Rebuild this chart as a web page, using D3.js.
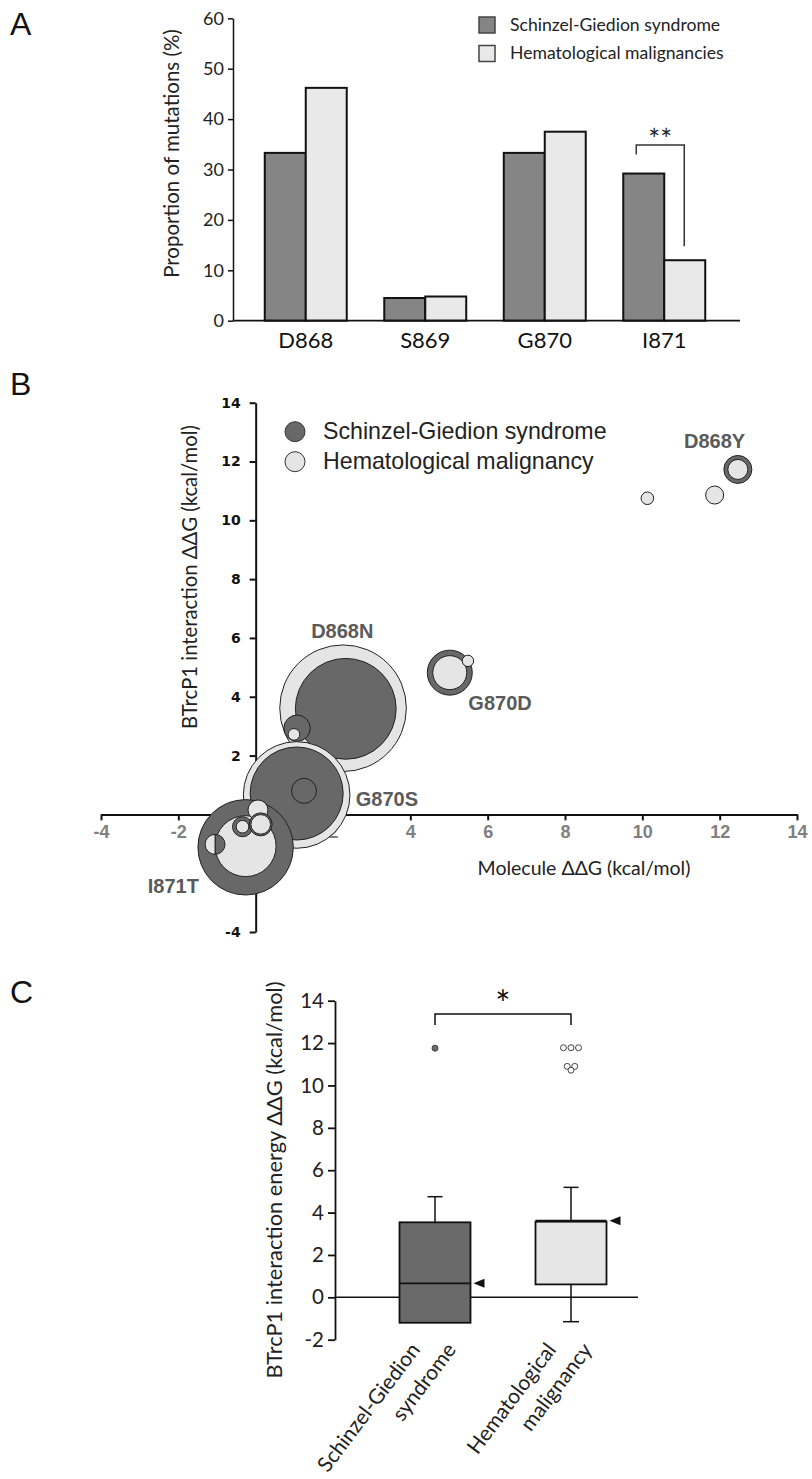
<!DOCTYPE html>
<html><head><meta charset="utf-8">
<script src="https://cdn.jsdelivr.net/npm/d3@7"></script>
<style>body{margin:0;background:#fff}svg{display:block}</style>
</head><body>
<svg id="c" width="812" height="1479"></svg>
<script>
// ---------------- DATA ----------------
// Panel A
const aCategories = ["D868", "S869", "G870", "I871"];
const aSeries = ["Schinzel-Giedion syndrome", "Hematological malignancies"];
const aSGS = [33.3, 4.5, 33.3, 29.2];
const aHM = [46.2, 4.8, 37.5, 12.0];
const aTicks = [0, 10, 20, 30, 40, 50, 60];

// Panel B (bubbles in drawing order)
const bLegend = ["Schinzel-Giedion syndrome", "Hematological malignancy"];
const bTicks = [-4, -2, 0, 2, 4, 6, 8, 10, 12, 14];
const bGroup = ["HM","SGS","SGS","HM","HM","SGS","SGS","SGS","HM","HM","SGS","HM","SGS","HM","SGS","HM","HM","SGS","HM","HM","HM"];
const bX =     [2.26, 2.33, 1.07, 0.99, 1.06, 1.06, 1.25, -0.26, -0.26, 0.06, -0.34, -0.34, 0.13, 0.13, 5.02, 5.02, 5.49, 12.47, 12.47, 10.13, 11.87];
const bY =     [3.61, 3.59, 2.93, 2.72, 0.66, 0.71, 0.80, -1.12, -1.08, 0.15, -0.42, -0.42, -0.34, -0.34, 4.82, 4.82, 5.22, 11.73, 11.73, 10.75, 10.86];
const bSize =  [101, 64, 4.39, 0.85, 71.6, 54.5, 3.94, 57.3, 23.4, 2.52, 2.52, 1.0, 3.33, 2.42, 12.75, 7.28, 0.82, 4.94, 2.52, 1.0, 2.04];
// split bubble (half SGS / half HM)
const bSplitX = -1.05, bSplitY = -1.02;
const bSplitCounts = [1.25, 1.25]; // [SGS, HM]
// mutation annotations (data coordinates)
const bLabels = ["D868N", "G870D", "G870S", "I871T", "D868Y"];
const bLabelX = [2.24, 5.50, 2.59, -2.79, 11.87];
const bLabelY = [5.99, 3.55, 0.28, -2.67, 12.45];
const bLabelAnchor = ["middle", "start", "start", "start", "middle"];

// Panel C
const cGroups = ["Schinzel-Giedion\nsyndrome", "Hematological\nmalignancy"];
const cQ1 = [-1.2, 0.61];
const cMedian = [0.66, 3.62];
const cQ3 = [3.54, 3.57];
const cWhiskLow = [-1.2, -1.15];
const cWhiskHigh = [4.75, 5.19];
const cOutliers = [[11.76], [11.78, 11.78, 11.78, 10.9, 10.9, 10.72]];
const cTicks = [-2, 0, 2, 4, 6, 8, 10, 12, 14];

// ---------------- STYLE ----------------
const CAL = "Lato, 'Open Sans', sans-serif";
const ARIAL = "'Liberation Sans', Arial, sans-serif";
const aDark = "#858585", aLight = "#e9e9e9";
const bDark = "#686868", bLight = "#e5e5e5";
const cDark = "#6a6a6a", cLight = "#e6e6e6";
const fmt = d => String(d); // plain hyphen minus

const svg = d3.select("#c");
svg.append("rect").attr("width", 812).attr("height", 1479).attr("fill", "#fff");

// panel letters
const panelLetters = ["A", "B", "C"];
const letterY = [35, 395, 1003];
svg.selectAll("text.letter").data(panelLetters).join("text")
  .attr("class", "letter").attr("x", 10).attr("y", (d, i) => letterY[i])
  .attr("font-family", ARIAL).attr("font-size", 32).attr("fill", "#111").text(d => d);

// ================= PANEL A =================
const gA = svg.append("g");
const yA = d3.scaleLinear().domain([0, 60]).range([320.7, 18.3]);
const xA = d3.scaleBand().domain(aCategories).range([246, 724]).paddingInner(0.314).paddingOuter(0.157);
const xAsub = d3.scaleBand().domain([0, 1]).range([0, xA.bandwidth()]);
const aVals = [aSGS, aHM];
const aFill = [aDark, aLight];

const axAy = gA.append("g").attr("transform", "translate(233,0)")
  .call(d3.axisLeft(yA).tickValues(aTicks).tickFormat(fmt).tickSize(5).tickSizeOuter(0).tickPadding(4));
axAy.select(".domain").attr("stroke", "#111").attr("stroke-width", 1.5);
axAy.selectAll(".tick line").attr("stroke", "#111").attr("stroke-width", 1.5);
axAy.selectAll("text").attr("font-family", CAL).attr("font-size", 18).attr("fill", "#222");

aCategories.forEach((c, i) => {
  [0, 1].forEach(s => {
    gA.append("rect")
      .attr("x", xA(c) + xAsub(s)).attr("width", xAsub.bandwidth())
      .attr("y", yA(aVals[s][i])).attr("height", yA(0) - yA(aVals[s][i]))
      .attr("fill", aFill[s]).attr("stroke", "#111").attr("stroke-width", 2);
  });
});
gA.append("line").attr("x1", 233).attr("x2", 740).attr("y1", yA(0)).attr("y2", yA(0))
  .attr("stroke", "#111").attr("stroke-width", 1.8);
const axAx = gA.append("g").attr("transform", `translate(0,${yA(0)})`)
  .call(d3.axisBottom(xA).tickSize(0).tickPadding(8));
axAx.select(".domain").remove();
axAx.selectAll("text").attr("font-family", CAL).attr("font-size", 22).attr("fill", "#111")
  .attr("dy", "0.9em");

gA.append("text").attr("transform", "translate(179,153.5) rotate(-90)")
  .attr("text-anchor", "middle").attr("font-family", CAL).attr("font-size", 20.5).attr("fill", "#222")
  .text("Proportion of mutations (%)");

// legend A
aSeries.forEach((s, i) => {
  gA.append("rect").attr("x", 479).attr("y", 17 + i * 28.5).attr("width", 16).attr("height", 16)
    .attr("fill", aFill[i]).attr("stroke", "#444").attr("stroke-width", 1.5);
  gA.append("text").attr("x", 510).attr("y", 31 + i * 27.6)
    .attr("font-family", CAL).attr("font-size", 17.6).attr("fill", "#222").text(s);
});

// significance I871
const lx = xA("I871") + xAsub(0) + 13, rx = xA("I871") + xAsub(1) + 20;
gA.append("path")
  .attr("d", `M${lx},${yA(aSGS[3]) - 19}V145H${rx}V${yA(aHM[3]) - 14}`)
  .attr("fill", "none").attr("stroke", "#333").attr("stroke-width", 1.5);
gA.append("text").attr("x", (lx + rx) / 2).attr("y", 150).attr("text-anchor", "middle")
  .attr("font-family", CAL).attr("font-size", 28).attr("fill", "#222").text("**");

// ================= PANEL B =================
const gB = svg.append("g");
const xB = d3.scaleLinear().domain([-4, 14]).range([101, 797]);
const yB = d3.scaleLinear().domain([-4, 14]).range([932, 402.7]);
const rB = d3.scaleSqrt().domain([0, 1]).range([0, 6.3]);
const bFill = { SGS: bDark, HM: bLight };

const axBx = gB.append("g").attr("transform", `translate(0,${yB(0)})`)
  .call(d3.axisBottom(xB).tickValues(bTicks).tickFormat(fmt).tickSize(6).tickSizeOuter(0).tickPadding(5));
axBx.select(".domain").attr("stroke", "#111").attr("stroke-width", 2);
axBx.selectAll(".tick line").attr("stroke", "#111").attr("stroke-width", 2);
axBx.selectAll("text").attr("font-family", ARIAL).attr("font-weight", "bold")
  .attr("font-size", 18).attr("fill", "#808080");

const axBy = gB.append("g").attr("transform", `translate(${xB(0)},0)`)
  .call(d3.axisLeft(yB).tickValues(bTicks).tickFormat(fmt).tickSize(6).tickSizeOuter(0).tickPadding(9));
axBy.select(".domain").attr("stroke", "#111").attr("stroke-width", 2);
axBy.selectAll(".tick line").attr("stroke", "#111").attr("stroke-width", 2);
axBy.selectAll("text").attr("font-family", "'DejaVu Sans', sans-serif").attr("font-weight", "bold")
  .attr("font-size", 14).attr("fill", "#111");
// hide the 0 labels that sit at the origin
axBx.selectAll(".tick").filter(d => d === 0).select("text").remove();
axBy.selectAll(".tick").filter(d => d === 0).select("text").remove();

gB.append("text").attr("transform", "translate(197,577) rotate(-90)")
  .attr("text-anchor", "middle").attr("font-family", CAL).attr("font-size", 20.3).attr("fill", "#222")
  .text("BTrcP1 interaction ΔΔG (kcal/mol)");
gB.append("text").attr("x", 584).attr("y", 875).attr("text-anchor", "middle")
  .attr("font-family", CAL).attr("font-size", 19.5).attr("fill", "#222")
  .text("Molecule ΔΔG (kcal/mol)");

// bubbles
bGroup.forEach((g, i) => {
  gB.append("circle").attr("cx", xB(bX[i])).attr("cy", yB(bY[i])).attr("r", rB(bSize[i]))
    .attr("fill", bFill[g]).attr("stroke", "#222").attr("stroke-width", 1);
});
// split bubble
const pie = d3.pie().sort(null)(bSplitCounts);
const splitR = rB(d3.sum(bSplitCounts));
const arc = d3.arc().innerRadius(0).outerRadius(splitR);
const splitG = gB.append("g").attr("transform", `translate(${xB(bSplitX)},${yB(bSplitY)})`);
splitG.selectAll("path").data(pie).join("path").attr("d", arc)
  .attr("fill", (d, i) => i === 0 ? bDark : bLight).attr("stroke", "#222").attr("stroke-width", 1);

// mutation labels
bLabels.forEach((t, i) => {
  gB.append("text").attr("x", xB(bLabelX[i])).attr("y", yB(bLabelY[i]))
    .attr("text-anchor", bLabelAnchor[i]).attr("font-family", ARIAL).attr("font-weight", "bold")
    .attr("font-size", 20).attr("fill", "#5a5a5a").text(t);
});

// legend B
bLegend.forEach((t, i) => {
  gB.append("circle").attr("cx", 295).attr("cy", 431.7 + i * 30).attr("r", 10)
    .attr("fill", i === 0 ? bDark : bLight).attr("stroke", "#333").attr("stroke-width", 1);
  gB.append("text").attr("x", 323).attr("y", 438.5 + i * 30)
    .attr("font-family", ARIAL).attr("font-size", 23.2).attr("fill", "#222").text(t);
});

// ================= PANEL C =================
const gC = svg.append("g");
const yC = d3.scaleLinear().domain([-2, 14]).range([1339.7, 1000.7]);
const xC = d3.scalePoint().domain(cGroups).range([435, 571]);
const boxW = 71;
const cFill = [cDark, cLight];
const cOutFill = [cDark, "#fff"];

const axCy = gC.append("g").attr("transform", "translate(335,0)")
  .call(d3.axisLeft(yC).tickValues(cTicks).tickFormat(fmt).tickSize(7).tickSizeOuter(0).tickPadding(4));
axCy.select(".domain").attr("stroke", "#111").attr("stroke-width", 1.8);
axCy.selectAll(".tick line").attr("stroke", "#111").attr("stroke-width", 1.8);
axCy.selectAll("text").attr("font-family", CAL).attr("font-size", 20.5).attr("fill", "#222");
gC.append("line").attr("x1", 335).attr("x2", 638).attr("y1", yC(0)).attr("y2", yC(0))
  .attr("stroke", "#111").attr("stroke-width", 1.5);

gC.append("text").attr("transform", "translate(282,1180) rotate(-90)")
  .attr("text-anchor", "middle").attr("font-family", CAL).attr("font-size", 21.8).attr("fill", "#222")
  .text("BTrcP1 interaction energy ΔΔG (kcal/mol)");

cGroups.forEach((g, i) => {
  const cx = xC(g);
  // whiskers
  gC.append("line").attr("x1", cx).attr("x2", cx).attr("y1", yC(cQ3[i])).attr("y2", yC(cWhiskHigh[i]))
    .attr("stroke", "#111").attr("stroke-width", 1.5);
  gC.append("line").attr("x1", cx - 7.5).attr("x2", cx + 7.5).attr("y1", yC(cWhiskHigh[i])).attr("y2", yC(cWhiskHigh[i]))
    .attr("stroke", "#111").attr("stroke-width", 1.5);
  if (cWhiskLow[i] < cQ1[i]) {
    gC.append("line").attr("x1", cx).attr("x2", cx).attr("y1", yC(cQ1[i])).attr("y2", yC(cWhiskLow[i]))
      .attr("stroke", "#111").attr("stroke-width", 1.5);
    gC.append("line").attr("x1", cx - 8).attr("x2", cx + 8).attr("y1", yC(cWhiskLow[i])).attr("y2", yC(cWhiskLow[i]))
      .attr("stroke", "#111").attr("stroke-width", 1.5);
  }
  // box
  gC.append("rect").attr("x", cx - boxW / 2).attr("width", boxW)
    .attr("y", yC(cQ3[i])).attr("height", yC(cQ1[i]) - yC(cQ3[i]))
    .attr("fill", cFill[i]).attr("stroke", "#111").attr("stroke-width", 1.8);
  gC.append("line").attr("x1", cx - boxW / 2).attr("x2", cx + boxW / 2)
    .attr("y1", yC(cMedian[i])).attr("y2", yC(cMedian[i])).attr("stroke", "#111").attr("stroke-width", 1.8);
  // median marker
  const ym = yC(cMedian[i]), bx = cx + boxW / 2;
  gC.append("path").attr("d", `M${bx + 3},${ym}L${bx + 14},${ym - 4.5}L${bx + 14},${ym + 4.5}Z`).attr("fill", "#111");
  // outliers: spread identical values side by side
  const grouped = d3.groups(cOutliers[i], v => Math.round(v * 20) / 20);
  grouped.forEach(([k, vals]) => {
    vals.forEach((v, j) => {
      gC.append("circle").attr("cx", cx + (j - (vals.length - 1) / 2) * 7.5).attr("cy", yC(v)).attr("r", 3)
        .attr("fill", cOutFill[i]).attr("stroke", "#444").attr("stroke-width", 1);
    });
  });
  // category labels
  g.split("\n").forEach((ln, j) => {
    gC.append("text").attr("transform", `translate(${cx + (j === 0 ? -14 : 22)},1350) rotate(-53)`)
      .attr("text-anchor", "end").attr("font-family", CAL).attr("font-size", 21).attr("fill", "#222").text(ln);
  });
});

// significance C
const c0 = xC(cGroups[0]), c1 = xC(cGroups[1]);
gC.append("path").attr("d", `M${c0},1025V1014H${c1}V1025`).attr("fill", "none")
  .attr("stroke", "#111").attr("stroke-width", 1.5);
gC.append("text").attr("x", (c0 + c1) / 2).attr("y", 1017).attr("text-anchor", "middle")
  .attr("font-family", CAL).attr("font-size", 36).attr("fill", "#111").text("*");
</script>
</body></html>
